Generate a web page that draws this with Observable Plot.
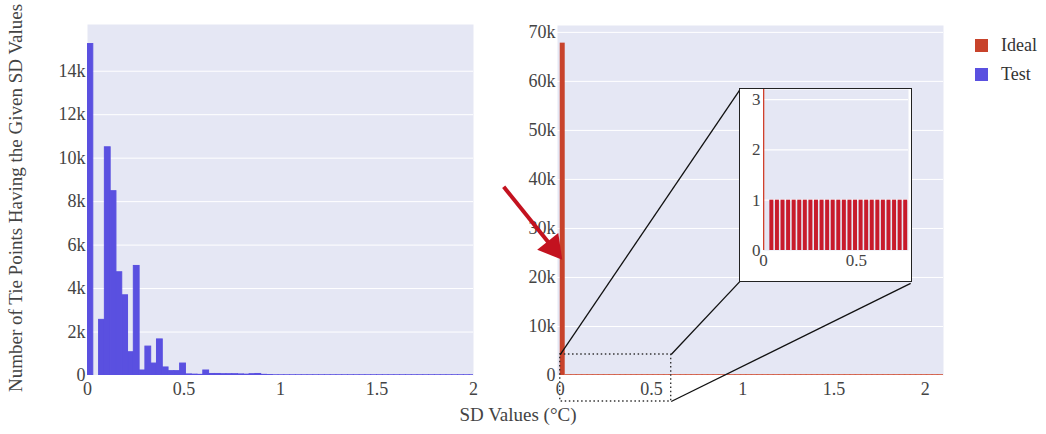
<!DOCTYPE html>
<html><head><meta charset="utf-8">
<script src="https://cdn.jsdelivr.net/npm/d3@7"></script>
<script src="https://cdn.jsdelivr.net/npm/@observablehq/plot@0.6"></script>
<style>
body{margin:0;background:#fff;font-family:"Liberation Serif",serif;}
#root{position:relative;width:1046px;height:434px;overflow:hidden;background:#fff;}
.abs{position:absolute;}
.title{color:#444;font-size:19px;white-space:nowrap;line-height:20px;}
.leg{display:flex;align-items:center;font-size:18px;color:#333;height:29px;}
.sw{width:13px;height:13px;margin-right:13px;}
</style></head><body><div id="root"></div>
<script>
// ---- data ----
const binWidth = 0.03;
const seriesNames = ["Ideal", "Test"];
const seriesColors = ["#c8432b", "#5a50e0"];
const testCounts = [
  15250, 0, 2560, 10500, 8480, 4750, 3690, 1070, 5040, 230,
  1330, 550, 1660, 370, 200, 200, 550, 50, 40, 30,
  230, 70, 70, 60, 60, 60, 50, 40, 60, 70,
  30, 20, 10, 10, 10, 10, 10, 10, 10, 10,
  10, 10, 10, 10, 10, 10, 10, 10, 10, 10,
  10, 10, 10, 10, 10, 10, 10, 10, 10, 10,
  10, 10, 10, 10, 10, 10, 10
];
const idealCounts = [
  67800, 1, 1, 1, 1, 1, 1, 1, 1, 1,
  1, 1, 1, 1, 1, 1, 1, 1, 1, 1,
  1, 1, 1, 1, 1, 1, 1, 1, 1, 1,
  1, 1, 1, 1, 1, 1, 1, 1, 1, 1,
  1, 1, 1, 1, 1, 1, 1, 1, 1, 1,
  1, 1, 1, 1, 1, 1, 1, 1, 1, 1,
  1, 1, 1, 1, 1, 1, 1, 1, 1, 1
];
const xTicks = [0, 0.5, 1, 1.5, 2];
const yTicksLeft = [0, 2000, 4000, 6000, 8000, 10000, 12000, 14000];
const yTicksRight = [0, 10000, 20000, 30000, 40000, 50000, 60000, 70000];
const insetXTicks = [0, 0.5];
const insetYTicks = [0, 1, 2, 3];
const yTitle = "Number of Tie Points Having the Given SD Values";
const xTitle = "SD Values (°C)";
// annotation (zoom indicator) in right-chart data units
const zoomBox = {x1: 0, x2: 0.608, y1: -5300, y2: 4280};
const insetBox = {x1: 0.985, x2: 1.92, y1: 19200, y2: 58300};
const arrowPts = {x1: -0.31, y1: 38500, x2: -0.042, y2: 26100};

// ---- build ----
const bg = "#e5e7f4";
const testColor = seriesColors[1], idealColor = seriesColors[0];
const testBins = testCounts.map((c, i) => ({x1: i * binWidth, x2: (i + 1) * binWidth, count: c}));
const idealBins = idealCounts.map((c, i) => ({x1: i * binWidth, x2: (i + 1) * binWidth, count: c}));
const fmtK = d => d === 0 ? "0" : d / 1000 + "k";
const fmtX = d => String(d);
const axStyle = {fontFamily: "Liberation Serif", fontSize: "18px", color: "#444", background: "transparent", overflow: "visible"};
const root = document.getElementById("root");

const left = Plot.plot({
  width: 480, height: 400, marginLeft: 87, marginRight: 7, marginTop: 24, marginBottom: 25,
  style: axStyle,
  x: {domain: [0, 2], ticks: xTicks, tickFormat: fmtX, tickSize: 0, tickPadding: 7, label: null},
  y: {domain: [0, 16150], ticks: yTicksLeft, tickFormat: fmtK, tickSize: 0, tickPadding: 2, label: null},
  marks: [
    Plot.frame({fill: bg, stroke: null}),
    Plot.gridY(yTicksLeft, {stroke: "#fff", strokeOpacity: 1, strokeWidth: 1}),
    Plot.rectY(testBins, {x1: "x1", x2: "x2", y: "count", fill: testColor, stroke: testColor, strokeWidth: 1, clip: true})
  ]
});
left.classList.add("abs"); left.style.left = "0px"; left.style.top = "0px";
root.appendChild(left);

const link = [
  {x1: zoomBox.x1, y1: zoomBox.y2, x2: insetBox.x1, y2: insetBox.y2},
  {x1: zoomBox.x2, y1: zoomBox.y2, x2: insetBox.x1, y2: insetBox.y1},
  {x1: zoomBox.x2, y1: zoomBox.y1, x2: insetBox.x2, y2: insetBox.y1 - 400}
];

const right = Plot.plot({
  width: 460, height: 410, marginLeft: 57, marginRight: 17, marginTop: 25, marginBottom: 35,
  style: axStyle,
  x: {domain: [-0.015, 2.1], ticks: xTicks, tickFormat: fmtX, tickSize: 0, tickPadding: 7, label: null},
  y: {domain: [0, 71400], ticks: yTicksRight, tickFormat: fmtK, tickSize: 0, tickPadding: 2, label: null},
  marks: [
    Plot.frame({fill: bg, stroke: null}),
    Plot.gridY(yTicksRight, {stroke: "#fff", strokeOpacity: 1, strokeWidth: 1}),
    Plot.rectY(idealBins.filter(d => d.count > 1), {x1: "x1", x2: "x2", y: "count", fill: idealColor, insetRight: 0.5, clip: true}),
    Plot.rectY(idealBins.filter(d => d.count <= 1), {x1: "x1", x2: "x2", y: "count", fill: idealColor, stroke: "#d4604a", strokeWidth: 1.8, clip: true}),
    Plot.rect([zoomBox], {x1: "x1", x2: "x2", y1: "y1", y2: "y2", fill: "none", stroke: "#333", strokeWidth: 1.4, strokeDasharray: "1.5,2.6"}),
    Plot.link(link, {x1: "x1", y1: "y1", x2: "x2", y2: "y2", stroke: "#111", strokeWidth: 1.3}),
    Plot.link([arrowPts], {x1: "x1", y1: "y1", x2: "x2", y2: "y2", stroke: "#c3121f", strokeWidth: 4}),
    Plot.dot([arrowPts], {x: "x2", y: "y2", symbol: "triangle", r: 10, rotate: 141.5, fill: "#c3121f", stroke: "none"})
  ]
});
right.classList.add("abs"); right.style.left = "500px"; right.style.top = "0px";
root.appendChild(right);

// inset positioned from right chart's scales
const sx = right.scale("x"), sy = right.scale("y");
const ix1 = 500 + sx.apply(insetBox.x1), ix2 = 500 + sx.apply(insetBox.x2);
const iy1 = sy.apply(insetBox.y2), iy2 = sy.apply(insetBox.y1);
const iw = Math.round(ix2 - ix1), ih = Math.round(iy2 - iy1);
const wrap = document.createElement("div");
wrap.className = "abs";
Object.assign(wrap.style, {left: (ix1 - 1) + "px", top: (iy1 - 1) + "px", width: iw + "px", height: ih + "px", border: "1.6px solid #222", background: "#fff", overflow: "hidden"});
const inset = Plot.plot({
  width: iw, height: ih, marginLeft: 23, marginRight: 3, marginTop: 0, marginBottom: 31,
  style: {fontFamily: "Liberation Serif", fontSize: "17px", color: "#444", background: "#fff", overflow: "visible"},
  x: {domain: [0, 0.78], ticks: insetXTicks, tickFormat: fmtX, tickSize: 0, tickPadding: 3, label: null},
  y: {domain: [0, 3.2], ticks: insetYTicks, tickFormat: fmtX, tickSize: 0, tickPadding: 3, label: null},
  marks: [
    Plot.frame({fill: bg, stroke: null}),
    Plot.gridY(insetYTicks.slice(1), {stroke: "#fff", strokeOpacity: 1, strokeWidth: 1.2}),
    Plot.rectY(idealBins.slice(1), {x1: "x1", x2: "x2", y: "count", fill: "#c81a2b", insetLeft: 0.8, insetRight: 0.8, clip: true}),
    Plot.ruleX(idealBins.slice(0, 1), {x: "x1", y1: 0, y2: "count", stroke: "#d0402c", strokeWidth: 1.6, clip: true})
  ]
});
wrap.appendChild(inset);
root.appendChild(wrap);

// titles
const yt = document.createElement("div");
yt.className = "abs title"; yt.textContent = yTitle;
Object.assign(yt.style, {left: (16 - 250) + "px", top: (198 - 10) + "px", width: "500px", textAlign: "center", transform: "rotate(-90deg)", transformOrigin: "50% 50%"});
root.appendChild(yt);
const xt = document.createElement("div");
xt.className = "abs title"; xt.textContent = xTitle;
Object.assign(xt.style, {left: (518 - 100) + "px", top: (415 - 10) + "px", width: "200px", textAlign: "center"});
root.appendChild(xt);

// legend
const leg = document.createElement("div");
leg.className = "abs"; Object.assign(leg.style, {left: "975px", top: "31px"});
seriesNames.forEach((n, i) => {
  const row = document.createElement("div"); row.className = "leg";
  const sw = document.createElement("div"); sw.className = "sw"; sw.style.background = seriesColors[i];
  const t = document.createElement("span"); t.textContent = n;
  row.appendChild(sw); row.appendChild(t); leg.appendChild(row);
});
root.appendChild(leg);
</script></body></html>
